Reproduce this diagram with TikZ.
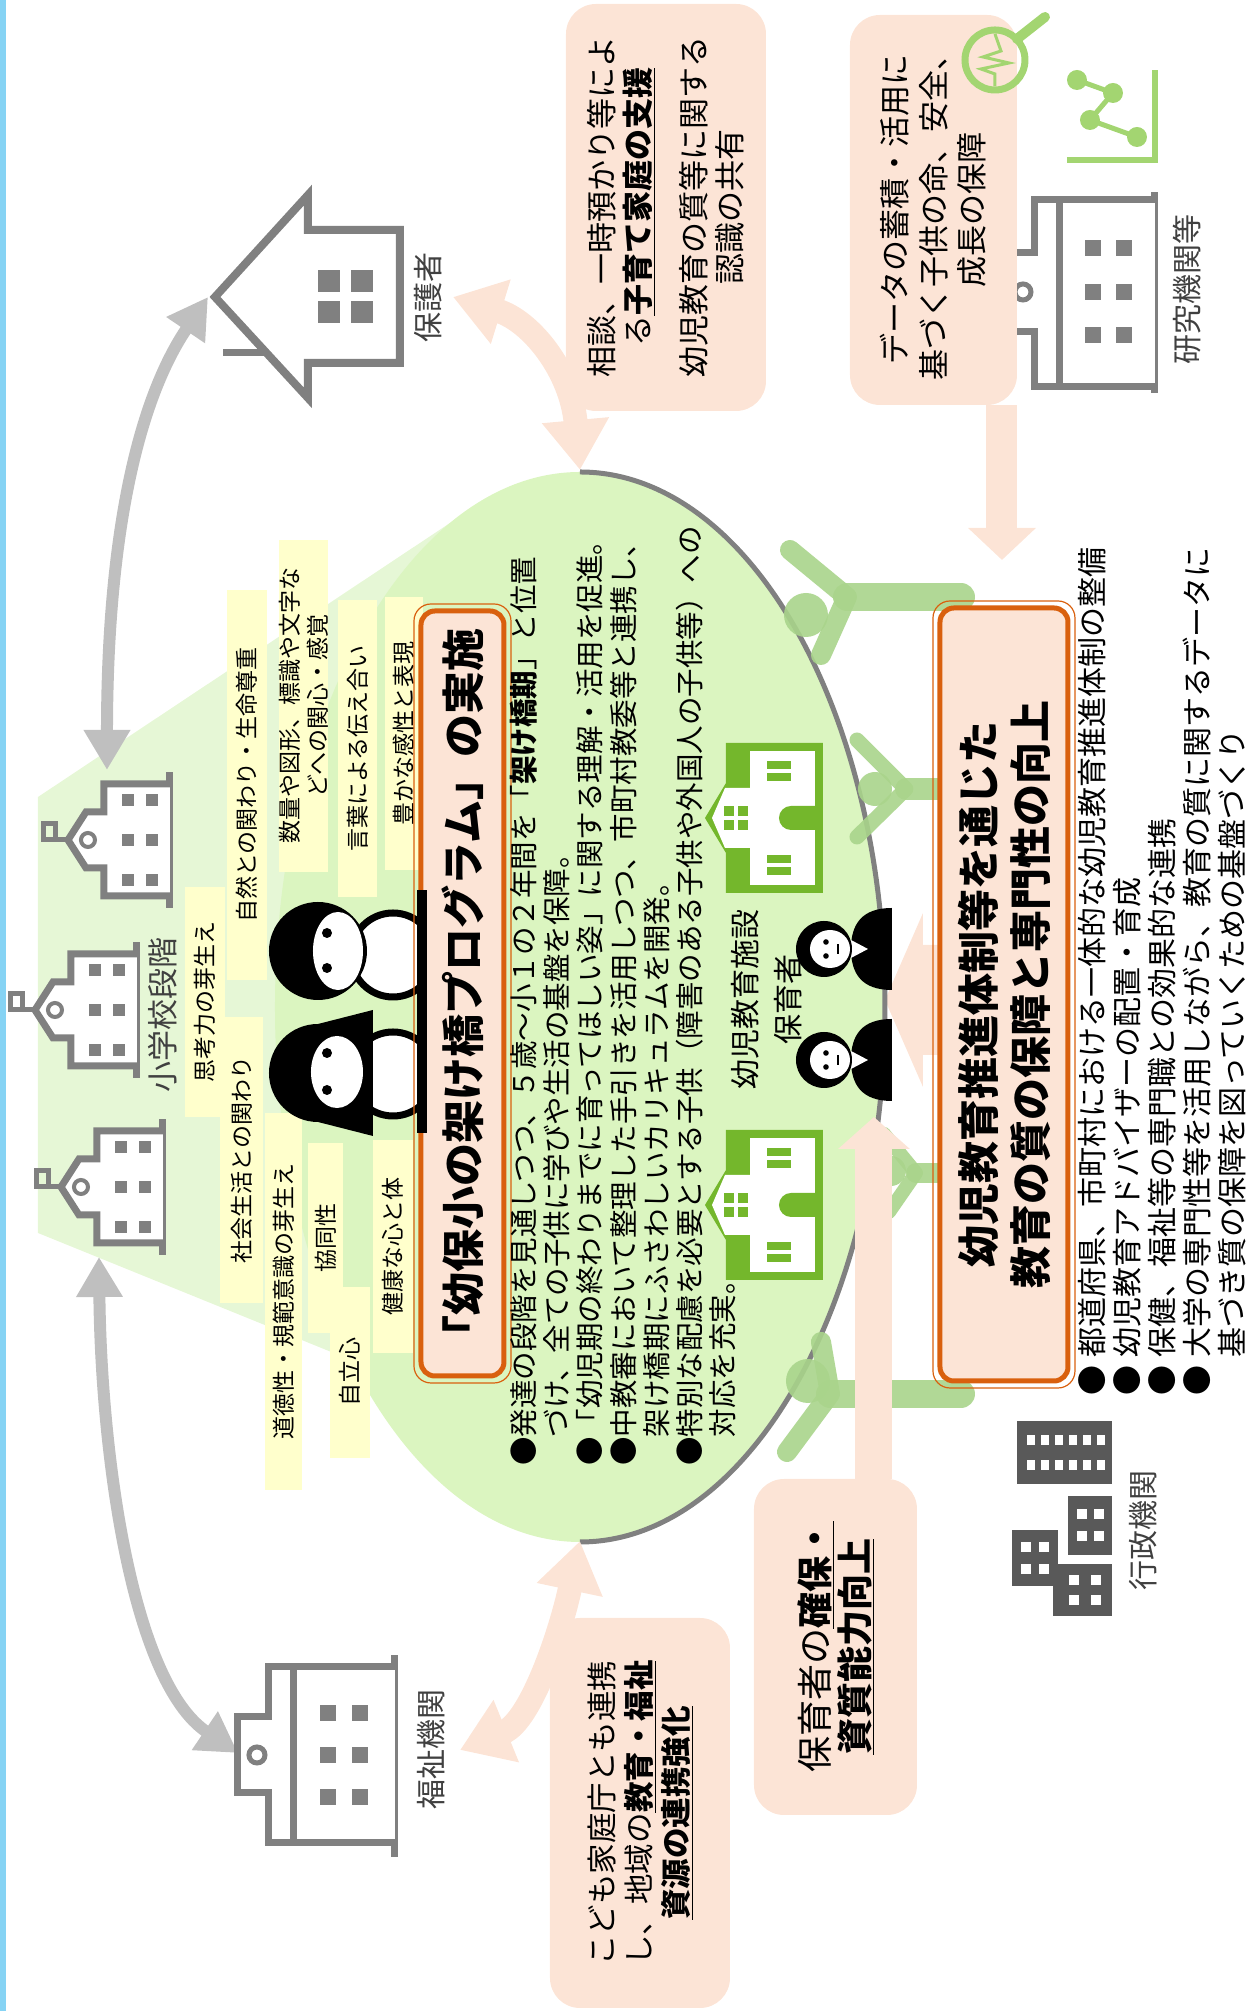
\documentclass[tikz,border=0pt]{standalone}
\usepackage{fontspec}
\setmainfont{Noto Sans CJK JP}
\usetikzlibrary{arrows.meta,calc}

\definecolor{peach}{HTML}{FCE4D6}
\definecolor{brorange}{HTML}{D9600E}
\definecolor{ellgreen}{HTML}{DBF5C0}
\definecolor{fangreen}{HTML}{E6F7D6}
\definecolor{lblyellow}{HTML}{FFFFCC}
\definecolor{icongray}{HTML}{808080}
\definecolor{arrowgray}{HTML}{BFBFBF}
\definecolor{kggreen}{HTML}{74B72C}
\definecolor{figgreen}{HTML}{A9D48B}
\definecolor{datagreen}{HTML}{A3D571}
\definecolor{govgray}{HTML}{595959}
\definecolor{txtgray}{HTML}{404040}
\definecolor{skyline}{HTML}{86D3F4}

\newcommand{\fsz}[2]{\fontsize{#1}{#2}\selectfont}

\tikzset{
  ylabel/.style={fill=lblyellow, inner sep=0pt, font=\fsz{23}{28}, align=center},
  place/.style={text=txtgray, font=\fsz{30}{36}, inner sep=0pt},
  peachbox/.style={fill=peach, rounded corners=30pt, inner sep=0pt, align=center},
  orangebox/.style={draw=brorange, line width=5pt, fill=peach, rounded corners=14pt, inner sep=0pt, align=center},
  icon/.style={draw=icongray, line width=7pt},
  grayarrow/.style={draw=arrowgray, line width=12pt, {Triangle[width=44pt,length=40pt]}-{Triangle[width=44pt,length=40pt]}},
  peacharrow/.style={draw=peach, line width=24pt, {Triangle[width=64pt,length=50pt]}-{Triangle[width=64pt,length=50pt]}},
  pics/school/.style={code={
    \draw[icon] (0,0) -- (136,0);
    \filldraw[icon, fill=white] (12,0) -- (12,66) -- (40,66) -- (40,84) -- (68,102) -- (96,84) -- (96,66) -- (124,66) -- (124,0);
    \draw[icon, line width=5pt] (68,102) -- (68,126) -- (84,126) -- (84,114) -- (68,114);
    \draw[icon, line width=4pt] (68,82) circle (7);
    \foreach \a in {28,68,108} \foreach \b in {18,42} \fill[icongray] (\a-6,\b-6) rectangle (\a+6,\b+6);
  }},
  pics/kinder/.style={code={
    \fill[kggreen] (0,0) -- (150,0) -- (150,97) -- (110,97) -- (75,118) -- (40,97) -- (0,97) -- cycle;
    \fill[white] (8,8) rectangle (142,73);
    \fill[white] (45,73) -- (45,98) -- (75,111) -- (105,98) -- (105,73) -- cycle;
    \foreach \a in {68,82} \foreach \b in {80,94} \fill[kggreen] (\a-5,\b-5) rectangle (\a+5,\b+5);
    \fill[kggreen] (63,8) -- (63,32) arc[start angle=180, end angle=0, radius=12] -- (87,8) -- cycle;
    \foreach \a in {22,34,116,128} \fill[kggreen] (\a-4,32) rectangle (\a+4,56);
  }},
  pics/carer/.style={code={
    \fill[black] (-41,0) .. controls (-41,30) and (-25,41) .. (0,41) .. controls (25,41) and (41,30) .. (41,0) -- cycle;
    \fill[white] (-9,41) -- (0,24) -- (9,41) -- cycle;
    \fill[black] (0,68) circle (28);
    \fill[white] (0,62) ellipse [x radius=19, y radius=20];
    \fill[black] (-7,66) circle (2.8) (7,66) circle (2.8);
    \draw[black, line width=1.5pt] (-5,54) -- (5,54);
  }}
}

\begin{document}
\begin{tikzpicture}[x=1pt, y=1pt, rotate=90, transform shape]
\useasboundingbox (0,0) rectangle (2011,1251);
\fill[skyline] (0,1245) rectangle (2011,1251);

% school stage fan and the programme ellipse
\fill[fangreen] (778,1213) -- (1214,1213) -- (1488,801) -- (1004,671) -- (651,900) -- cycle;
\coordinate (ellc) at (1004,671);
\fill[ellgreen] (ellc) ellipse [x radius=535, y radius=305];
% flat arrow from the lower box up to the ellipse
\fill[peach] (956,300) -- (956,328) -- (924,328) -- (1011,366) -- (1098,328) -- (1066,328) -- (1066,300) -- cycle;
\draw[icongray, line width=5pt] (469,671) arc[start angle=180, end angle=360, x radius=535, y radius=305];
\coordinate (ellright) at (1541,671);
\coordinate (ellleft) at (470,671);

% gray links between the outside partners
\coordinate (homeTip) at (1714,1043);
\coordinate (upperTip) at (1241,1144);
\coordinate (lowerTip) at (754,1152);
\coordinate (welfareTip) at (258,1013);
\draw[grayarrow] (upperTip) .. controls (1450,1144) and (1600,1120) .. (homeTip);
\draw[grayarrow] (lowerTip) .. controls (560,1150) and (330,1120) .. (welfareTip);

% peach links
\coordinate (parentTip) at (1714,798);
\coordinate (welfareLbl) at (261,791);
\draw[peacharrow] (ellright) .. controls (1640,680) and (1690,720) .. (parentTip);
\draw[peacharrow] (ellleft) .. controls (380,690) and (290,720) .. (welfareLbl);

% ten aspects of growth
\node[ylabel, minimum width=286pt, minimum height=43pt] (shakai) at (851,1009.5) {社会生活との関わり};
\node[ylabel, minimum width=230pt, minimum height=40pt] (shikou) at (1009,1046) {思考力の芽生え};
\node[ylabel, minimum width=390pt, minimum height=40pt] (shizen) at (1226,1004) {自然との関わり・生命尊重};
\node[ylabel, minimum width=332pt, minimum height=47pt] (suuryou) at (1305,947.5) {数量や図形、標識や文字な\\どへの関心・感覚};
\node[ylabel, minimum width=297pt, minimum height=39pt] (kotoba) at (1262.5,893.5) {言葉による伝え合い};
\node[ylabel, minimum width=273pt, minimum height=38pt] (yutaka) at (1277.5,847) {豊かな感性と表現};
\node[ylabel, minimum width=377pt, minimum height=37pt] (doutoku) at (709.5,967.5) {道徳性・規範意識の芽生え};
\node[ylabel, minimum width=190pt, minimum height=35pt] (kyoudou) at (773,925.5) {協同性};
\node[ylabel, minimum width=171pt, minimum height=40pt] (jiritsu) at (638.5,901) {自立心};
\node[ylabel, minimum width=213pt, minimum height=40pt] (kenkou) at (764.5,858) {健康な心と体};

% two children
\filldraw[black, fill=white, line width=7pt] (1056,858) circle (42);
\filldraw[black, fill=white, line width=7pt] (937,858) circle (42);
\fill[black] (1060,933) circle (49);
\fill[white] (1060,913) ellipse [x radius=39, y radius=25];
\fill[black] (1043,924) circle (5) (1078,924) circle (5);
\fill[black] (875,878) -- (889,933) arc[start angle=180, end angle=0, radius=49] -- (1001,878) -- cycle;
\fill[white] (939,914) ellipse [x radius=36, y radius=26];
\fill[black] (921,924) circle (5) (958,924) circle (5);

% programme title
\node[orangebox, minimum width=765pt, minimum height=83pt, font=\fsz{43}{50}\bfseries] (title) at (1017.5,788.5) {「幼保小の架け橋プログラム」の実施};
\draw[brorange, line width=1.2pt, rounded corners=17pt] ($(title.south west)+(-4.5,-4.5)$) rectangle ($(title.north east)+(4.5,4.5)$);
\fill[black] (878,824) rectangle (1121,834);

% primary school buildings
\pic at (1103,1081) {school};
\pic at (933,1114) {school};
\pic at (756,1088) {school};
\node[place, font=\fsz{31}{36}] (shogakko) at (996,1088) {小学校段階};

% guardian's house
\filldraw[icon, line width=8pt, fill=white] (1648,851) -- (1648,943) -- (1613,943) -- (1714,1036) -- (1816,943) -- (1781,943) -- (1781,851) -- cycle;
\draw[icon] (1658,984) -- (1658,1028);
\foreach \a in {1699,1730} \foreach \b in {889,922} \fill[icongray] (\a-11,\b-11) rectangle (\a+11,\b+11);
\node[place] (hogosha) at (1713,823) {保護者};

% welfare office
\draw[icon] (154,856) -- (356,856);
\filldraw[icon, fill=white] (168,856) -- (168,982) -- (218,982) -- (218,1013) -- (294,1013) -- (294,982) -- (344,982) -- (344,856);
\draw[icon] (168,957) -- (344,957);
\draw[icon, line width=5pt] (256,994) circle (8);
\foreach \a in {214,256,298} \foreach \b in {891,923} \fill[icongray] (\a-8,\b-8) rectangle (\a+8,\b+8);
\node[place] (fukushi) at (261,820) {福祉機関};

% research institute
\draw[icon] (1618,96) -- (1819,96);
\filldraw[icon, fill=white] (1624,96) -- (1624,216) -- (1679,216) -- (1679,243) -- (1758,243) -- (1758,216) -- (1811,216) -- (1811,96);
\draw[icon] (1624,191) -- (1811,191);
\draw[icon, line width=5pt] (1719,228) circle (8);
\foreach \a in {1676,1719,1763} \foreach \b in {127,158} \fill[icongray] (\a-8,\b-8) rectangle (\a+8,\b+8);
\node[place] (kenkyu) at (1721,64) {研究機関等};

% government offices
\fill[govgray] (527,139) rectangle (590,234);
\foreach \a in {546,571} \foreach \b in {150,164,178,192,206,220} \fill[white] (\a-5,\b-4) rectangle (\a+5,\b+4);
\fill[govgray] (456,139) rectangle (515,183);
\foreach \a in {475,497} \foreach \b in {152,169} \fill[white] (\a-5,\b-5) rectangle (\a+5,\b+5);
\fill[govgray] (395,139) rectangle (447,198);
\foreach \a in {411,431} \foreach \b in {155,177} \fill[white] (\a-5,\b-5) rectangle (\a+5,\b+5);
\fill[govgray] (425,193) rectangle (481,239);
\foreach \a in {442,464} \foreach \b in {207,225} \fill[white] (\a-5,\b-5) rectangle (\a+5,\b+5);
\node[place] (gyosei) at (480,108) {行政機関};

% programme details
\node[anchor=west, align=left, inner sep=0pt, font=\fsz{28.5}{33.3}] (detail) at (545,628) {●発達の段階を見通しつつ、５歳～小１の２年間を「\textbf{架け橋期}」と位置\\　づけ、全ての子供に学びや生活の基盤を保障。\\●「幼児期の終わりまでに育ってほしい姿」に関する理解・活用を促進。\\●中教審において整理した手引きを活用しつつ、市町村教委等と連携し、\\　架け橋期にふさわしいカリキュラムを開発。\\●特別な配慮を必要とする子供（障害のある子供や外国人の子供等）への\\　対応を充実。};

% kindergartens and carers
\pic at (1118,428) {kinder};
\pic at (731,428) {kinder};
\node[font=\fsz{30}{36}, inner sep=0pt] (shisetsu) at (1011,506) {幼児教育施設};
\node[font=\fsz{30}{36}, inner sep=0pt] (hoikusha) at (1011,463) {保育者};
\pic at (1062,359) {carer};
\pic at (951,359) {carer};

% people behind the lower box
\begin{scope}[figgreen, line cap=round, opacity=0.9]
\draw[line width=28pt] (1414,404) -- (1414,290);
\draw[line width=20pt] (1414,404) -- (1461,461) (1414,404) -- (1356,430);
\fill (1396,445) circle (22);
\draw[line width=28pt] (617,421) -- (617,290);
\draw[line width=20pt] (617,421) -- (559,464) (617,421) -- (669,430);
\fill (630,443) circle (22);
\draw[line width=22pt] (1222,345) -- (1222,290);
\draw[line width=15pt] (1222,345) -- (1271,394) (1222,345) -- (1174,394);
\fill (1222,376) circle (17);
\draw[line width=20pt] (838,335) -- (838,290);
\draw[line width=14pt] (838,335) -- (877,367) (838,335) -- (799,362);
\fill (840,360) circle (15);
\end{scope}

% staff box and its arrow
\node[peachbox, minimum width=336pt, minimum height=163pt, font=\fsz{36}{40}] (staff) at (364,415.5) {保育者の\underline{\textbf{確保・}}\\\underline{\textbf{資質能力向上}}};
\coordinate (staffTip) at (894,377);
\draw[draw=peach, line width=37pt, -{Triangle[width=70pt,length=32pt]}] (staff.east |- staffTip) -- (staffTip);

% promotion system box
\node[orangebox, minimum width=773pt, minimum height=128pt, font=\fsz{42}{52}\bfseries] (system) at (1016.5,247) {幼児教育推進体制等を通じた\\教育の質の保障と専門性の向上};
\draw[brorange, line width=1.2pt, rounded corners=17pt] ($(system.south west)+(-4.5,-4.5)$) rectangle ($(system.north east)+(4.5,4.5)$);
\node[anchor=west, align=left, inner sep=0pt, font=\fsz{30}{35}] (measures) at (615,89) {●\hspace{8pt}都道府県、市町村における一体的な幼児教育推進体制の整備\\●\hspace{8pt}幼児教育アドバイザーの配置・育成\\●\hspace{8pt}保健、福祉等の専門職との効果的な連携\\●\hspace{8pt}大学の専門性等を活用しながら、教育の質に関するデータに\\\hspace{38pt}基づき質の保障を図っていくための基盤づくり};

% partner boxes
\node[peachbox, minimum width=407pt, minimum height=200pt, font=\fsz{31}{36}] (consult) at (1803.5,585) {相談、一時預かり等によ\\る\underline{\textbf{子育て家庭の支援}}\\[20pt]幼児教育の質等に関する\\認識の共有};
\node[peachbox, minimum width=390pt, minimum height=167pt, font=\fsz{31}{38.5}] (data) at (1801,317.5) {データの蓄積・活用に\\基づく子供の命、安全、\\成長の保障};
\coordinate (dataTip) at (1451,249);
\draw[draw=peach, line width=31pt, -{Triangle[width=66pt,length=32pt]}] (data.west |- dataTip) -- (dataTip);
\node[peachbox, minimum width=390pt, minimum height=180pt, font=\fsz{30.5}{37}] (kodomo) at (198,611) {こども家庭庁とも連携\\し、地域の\underline{\textbf{教育・福祉}}\\\underline{\textbf{資源の連携強化}}};

% data icons
\draw[datagreen, line width=7pt] (1951,256) circle (30);
\draw[datagreen, line width=10pt, line cap=round] (1972,234) -- (1994,206);
\draw[datagreen, line width=3pt] (1925,256) -- (1937,256) -- (1942,270) -- (1948,242) -- (1954,268) -- (1960,250) -- (1977,256);
\draw[datagreen, line width=6pt] (1851,184) -- (1851,96) -- (1941,96);
\draw[datagreen, line width=5pt] (1874,114) -- (1891,161) -- (1918,138) -- (1931,174);
\foreach \p in {(1874,114),(1891,161),(1918,138),(1931,174)} \fill[datagreen] \p circle (10);
\end{tikzpicture}
\end{document}
